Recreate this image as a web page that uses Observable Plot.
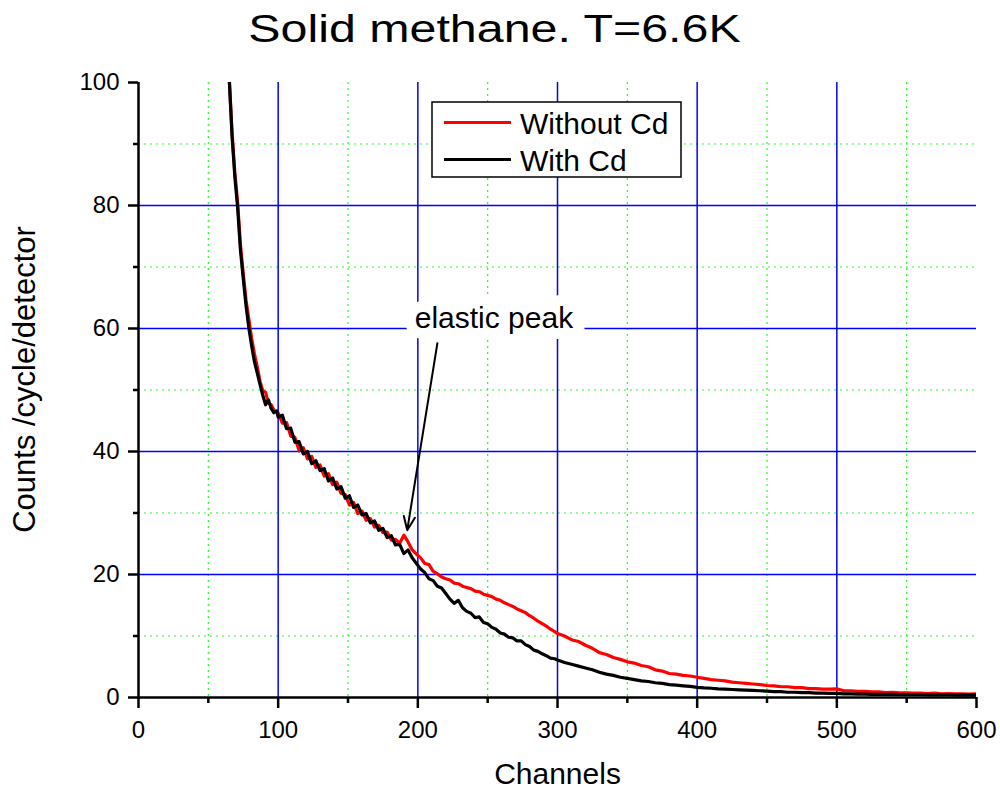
<!DOCTYPE html>
<html>
<head>
<meta charset="utf-8">
<script src="https://cdn.jsdelivr.net/npm/d3@7"></script>
<script src="https://cdn.jsdelivr.net/npm/@observablehq/plot@0.6"></script>
<style>
  html, body { margin: 0; padding: 0; background: white; }
</style>
</head>
<body>
<div id="chart"></div>
<script>
// ---------- data ----------
const channels = [
  64,65,67,69,71,73,75,77,79,81,83,85,87,89,91,93,95,97,99,
  100,103,106,109,112,115,118,121,124,127,130,133,136,139,142,145,148,151,154,157,
  160,163,166,169,172,175,178,181,184,187,190,193,196,199,202,205,208,211,214,217,
  220,223,226,229,232,235,238,241,244,247,250,253,256,259,262,265,268,271,274,277,
  280,283,286,289,292,295,298,
  300,305,310,315,320,325,330,335,340,345,350,355,360,365,370,375,380,385,390,395,
  400,405,410,415,420,425,430,435,440,445,450,455,460,465,470,475,480,485,490,495,
  500,505,510,515,520,525,530,535,540,545,550,555,560,565,570,575,580,585,590,595,600
];

const withoutCd = [
  104,100.6,91.8,85.3,80.4,73.6,68.9,64.6,61.5,58.4,55.9,53.8,51.4,49.9,49.6,47.9,47.6,46.7,46.4,
  46.3,44.6,44.7,42.5,42.3,40.1,40.6,38.8,39.2,37.4,37.8,36.0,36.4,34.6,35.0,33.2,33.0,31.3,31.7,29.9,
  30.3,28.8,29.1,27.7,28.0,26.8,26.9,25.6,25.7,25.1,26.4,25.3,24.0,23.3,22.7,21.8,21.6,20.5,20.1,19.6,
  19.3,19.1,18.6,18.5,18.1,17.9,17.7,17.3,17.2,16.8,16.6,16.4,16.0,15.8,15.4,15.1,14.8,14.4,14.1,13.8,
  13.3,12.9,12.4,12.0,11.6,11.1,10.7,
  10.4,10.0,9.4,9.1,8.5,8.0,7.3,7.0,6.5,6.2,5.8,5.6,5.2,5.0,4.5,4.3,3.9,3.8,3.6,3.5,
  3.3,3.1,2.9,2.8,2.7,2.5,2.4,2.3,2.2,2.1,1.95,1.9,1.75,1.75,1.6,1.6,1.45,1.45,1.35,1.35,
  1.4,1.1,1.1,1.0,1.0,0.9,0.9,0.8,0.85,0.75,0.75,0.7,0.7,0.65,0.7,0.6,0.65,0.6,0.6,0.55,0.6
];

const withCd = [
  104,100.4,91.2,84.6,79.6,72.7,68.1,63.7,60.1,57.2,54.6,52.8,50.9,49.1,47.6,48.4,47.0,46.3,46.6,
  45.6,45.9,43.7,43.8,41.5,41.6,39.6,40.0,38.0,38.5,36.9,37.2,35.2,35.7,33.9,34.3,32.4,32.8,30.9,31.3,
  29.7,29.9,28.4,28.7,27.2,27.5,26.0,26.3,24.8,24.9,23.4,24.0,22.7,21.8,20.9,20.3,19.3,19.0,18.1,17.8,
  16.9,16.0,15.3,15.8,14.6,14.0,13.7,13.0,13.1,12.2,12.0,11.4,11.1,10.5,10.3,9.8,9.7,9.2,9.2,8.6,
  8.3,7.7,7.5,7.1,6.8,6.4,6.3,
  6.1,5.7,5.4,5.1,4.8,4.5,4.1,3.8,3.6,3.3,3.1,2.9,2.7,2.6,2.4,2.3,2.1,2.0,1.9,1.8,
  1.65,1.55,1.5,1.4,1.35,1.3,1.25,1.2,1.15,1.1,1.05,0.95,0.95,0.85,0.85,0.8,0.78,0.72,0.7,0.66,
  0.66,0.6,0.6,0.56,0.55,0.52,0.52,0.5,0.5,0.47,0.47,0.45,0.45,0.43,0.43,0.42,0.42,0.4,0.4,0.4,0.4
];

const seriesNames = ["Without Cd", "With Cd"];
const seriesColors = ["#ff0000", "#000000"];

const xMajorTicks = [0, 100, 200, 300, 400, 500, 600];
const xMinorTicks = [50, 150, 250, 350, 450, 550];
const yMajorTicks = [0, 20, 40, 60, 80, 100];
const yMinorTicks = [10, 30, 50, 70, 90];
const xGridMajor = [100, 200, 300, 400, 500];
const yGridMajor = [20, 40, 60, 80];

const titleText = "Solid methane. T=6.6K";
const xLabel = "Channels";
const yLabel = "Counts /cycle/detector";

// annotation: label and arrow pointing to the elastic peak
const annoLabel = [{x: 254.5, y: 61.7, text: "elastic peak"}];
const annoArrow = [{x1: 214, y1: 57.6, x2: 192.4, y2: 27.2}];

// ---------- build ----------
const rows = (vals, name) => channels.map((c, i) => ({channel: c, value: vals[i], series: name}));
const redRows = rows(withoutCd, seriesNames[0]);
const blackRows = rows(withCd, seriesNames[1]);

const FONT = "Liberation Sans, Arial, Helvetica, sans-serif";

function legendMark() {
  const g = d3.create("svg:g");
  const bx = 432, by = 102, bw = 249, bh = 75;
  g.append("rect").attr("x", bx).attr("y", by).attr("width", bw).attr("height", bh)
    .attr("fill", "white").attr("stroke", "black").attr("stroke-width", 1.5);
  const ys = [122.5, 159.5];
  seriesNames.forEach((name, i) => {
    g.append("line").attr("x1", 444).attr("x2", 511).attr("y1", ys[i]).attr("y2", ys[i])
      .attr("stroke", seriesColors[i]).attr("stroke-width", 3);
    g.append("text").attr("x", 520).attr("y", ys[i] + 11).attr("text-anchor", "start")
      .attr("font-size", 30).attr("font-family", FONT).attr("fill", "black").text(name);
  });
  return g.node();
}

const chart = Plot.plot({
  width: 1000,
  height: 789,
  marginLeft: 138,
  marginRight: 24,
  marginTop: 82,
  marginBottom: 92,
  style: {fontFamily: FONT, background: "white", color: "black", overflow: "visible"},
  x: {domain: [0, 600]},
  y: {domain: [0, 100]},
  marks: [
    // minor grid (green dotted)
    Plot.ruleX(xMinorTicks, {stroke: "#22ff22", strokeWidth: 1.2, strokeDasharray: "2,4"}),
    Plot.ruleY(yMinorTicks, {stroke: "#22ff22", strokeWidth: 1.2, strokeDasharray: "2,4"}),
    // major grid (blue)
    Plot.ruleX(xGridMajor, {stroke: "#0000ff", strokeWidth: 1.5}),
    Plot.ruleY(yGridMajor, {stroke: "#0000ff", strokeWidth: 1.5}),
    // label with white background
    Plot.text(annoLabel, {x: "x", y: "y", text: "text", fontSize: 30, fill: "black",
      stroke: "white", strokeWidth: 22, textAnchor: "middle", lineAnchor: "middle"}),
    Plot.arrow(annoArrow, {x1: "x1", y1: "y1", x2: "x2", y2: "y2", stroke: "black",
      strokeWidth: 2, headLength: 11, headAngle: 45}),
    // series
    Plot.line(redRows, {x: "channel", y: "value", stroke: seriesColors[0], strokeWidth: 3.2, clip: true}),
    Plot.line(blackRows, {x: "channel", y: "value", stroke: seriesColors[1], strokeWidth: 3.2, clip: true}),
    // axes
    Plot.ruleX([0], {stroke: "black", strokeWidth: 2.5}),
    Plot.ruleY([0], {stroke: "black", strokeWidth: 2.5}),
    Plot.axisX({ticks: xMajorTicks, tickSize: 11, tickPadding: 12, fontSize: 24, strokeWidth: 2.5, label: null}),
    Plot.axisX({ticks: xMinorTicks, tickSize: 6, tickFormat: () => "", strokeWidth: 2.5, label: null}),
    Plot.axisY({ticks: yMajorTicks, tickSize: 10, tickPadding: 9, fontSize: 24, strokeWidth: 2.5, label: null}),
    Plot.axisY({ticks: yMinorTicks, tickSize: 5, tickFormat: () => "", strokeWidth: 2.5, label: null}),
    // titles
    Plot.text([titleText], {frameAnchor: "top", dx: -63, dy: -41, fontSize: 39,
      lineAnchor: "bottom", textAnchor: "middle", fill: "black"}),
    Plot.text([xLabel], {frameAnchor: "bottom", dy: 86, fontSize: 30,
      lineAnchor: "bottom", textAnchor: "middle", fill: "black"}),
    Plot.text([yLabel], {frameAnchor: "left", dx: -104, dy: -10.5, fontSize: 31, rotate: -90,
      lineAnchor: "bottom", textAnchor: "middle", fill: "black"}),
    // legend
    legendMark
  ]
});

// the reference title is horizontally stretched
d3.select(chart).selectAll("text")
  .filter(function () { return this.textContent === titleText; })
  .attr("transform", function () { return (d3.select(this).attr("transform") || "") + " scale(1.24,1)"; });

document.getElementById("chart").appendChild(chart);
</script>
</body>
</html>
